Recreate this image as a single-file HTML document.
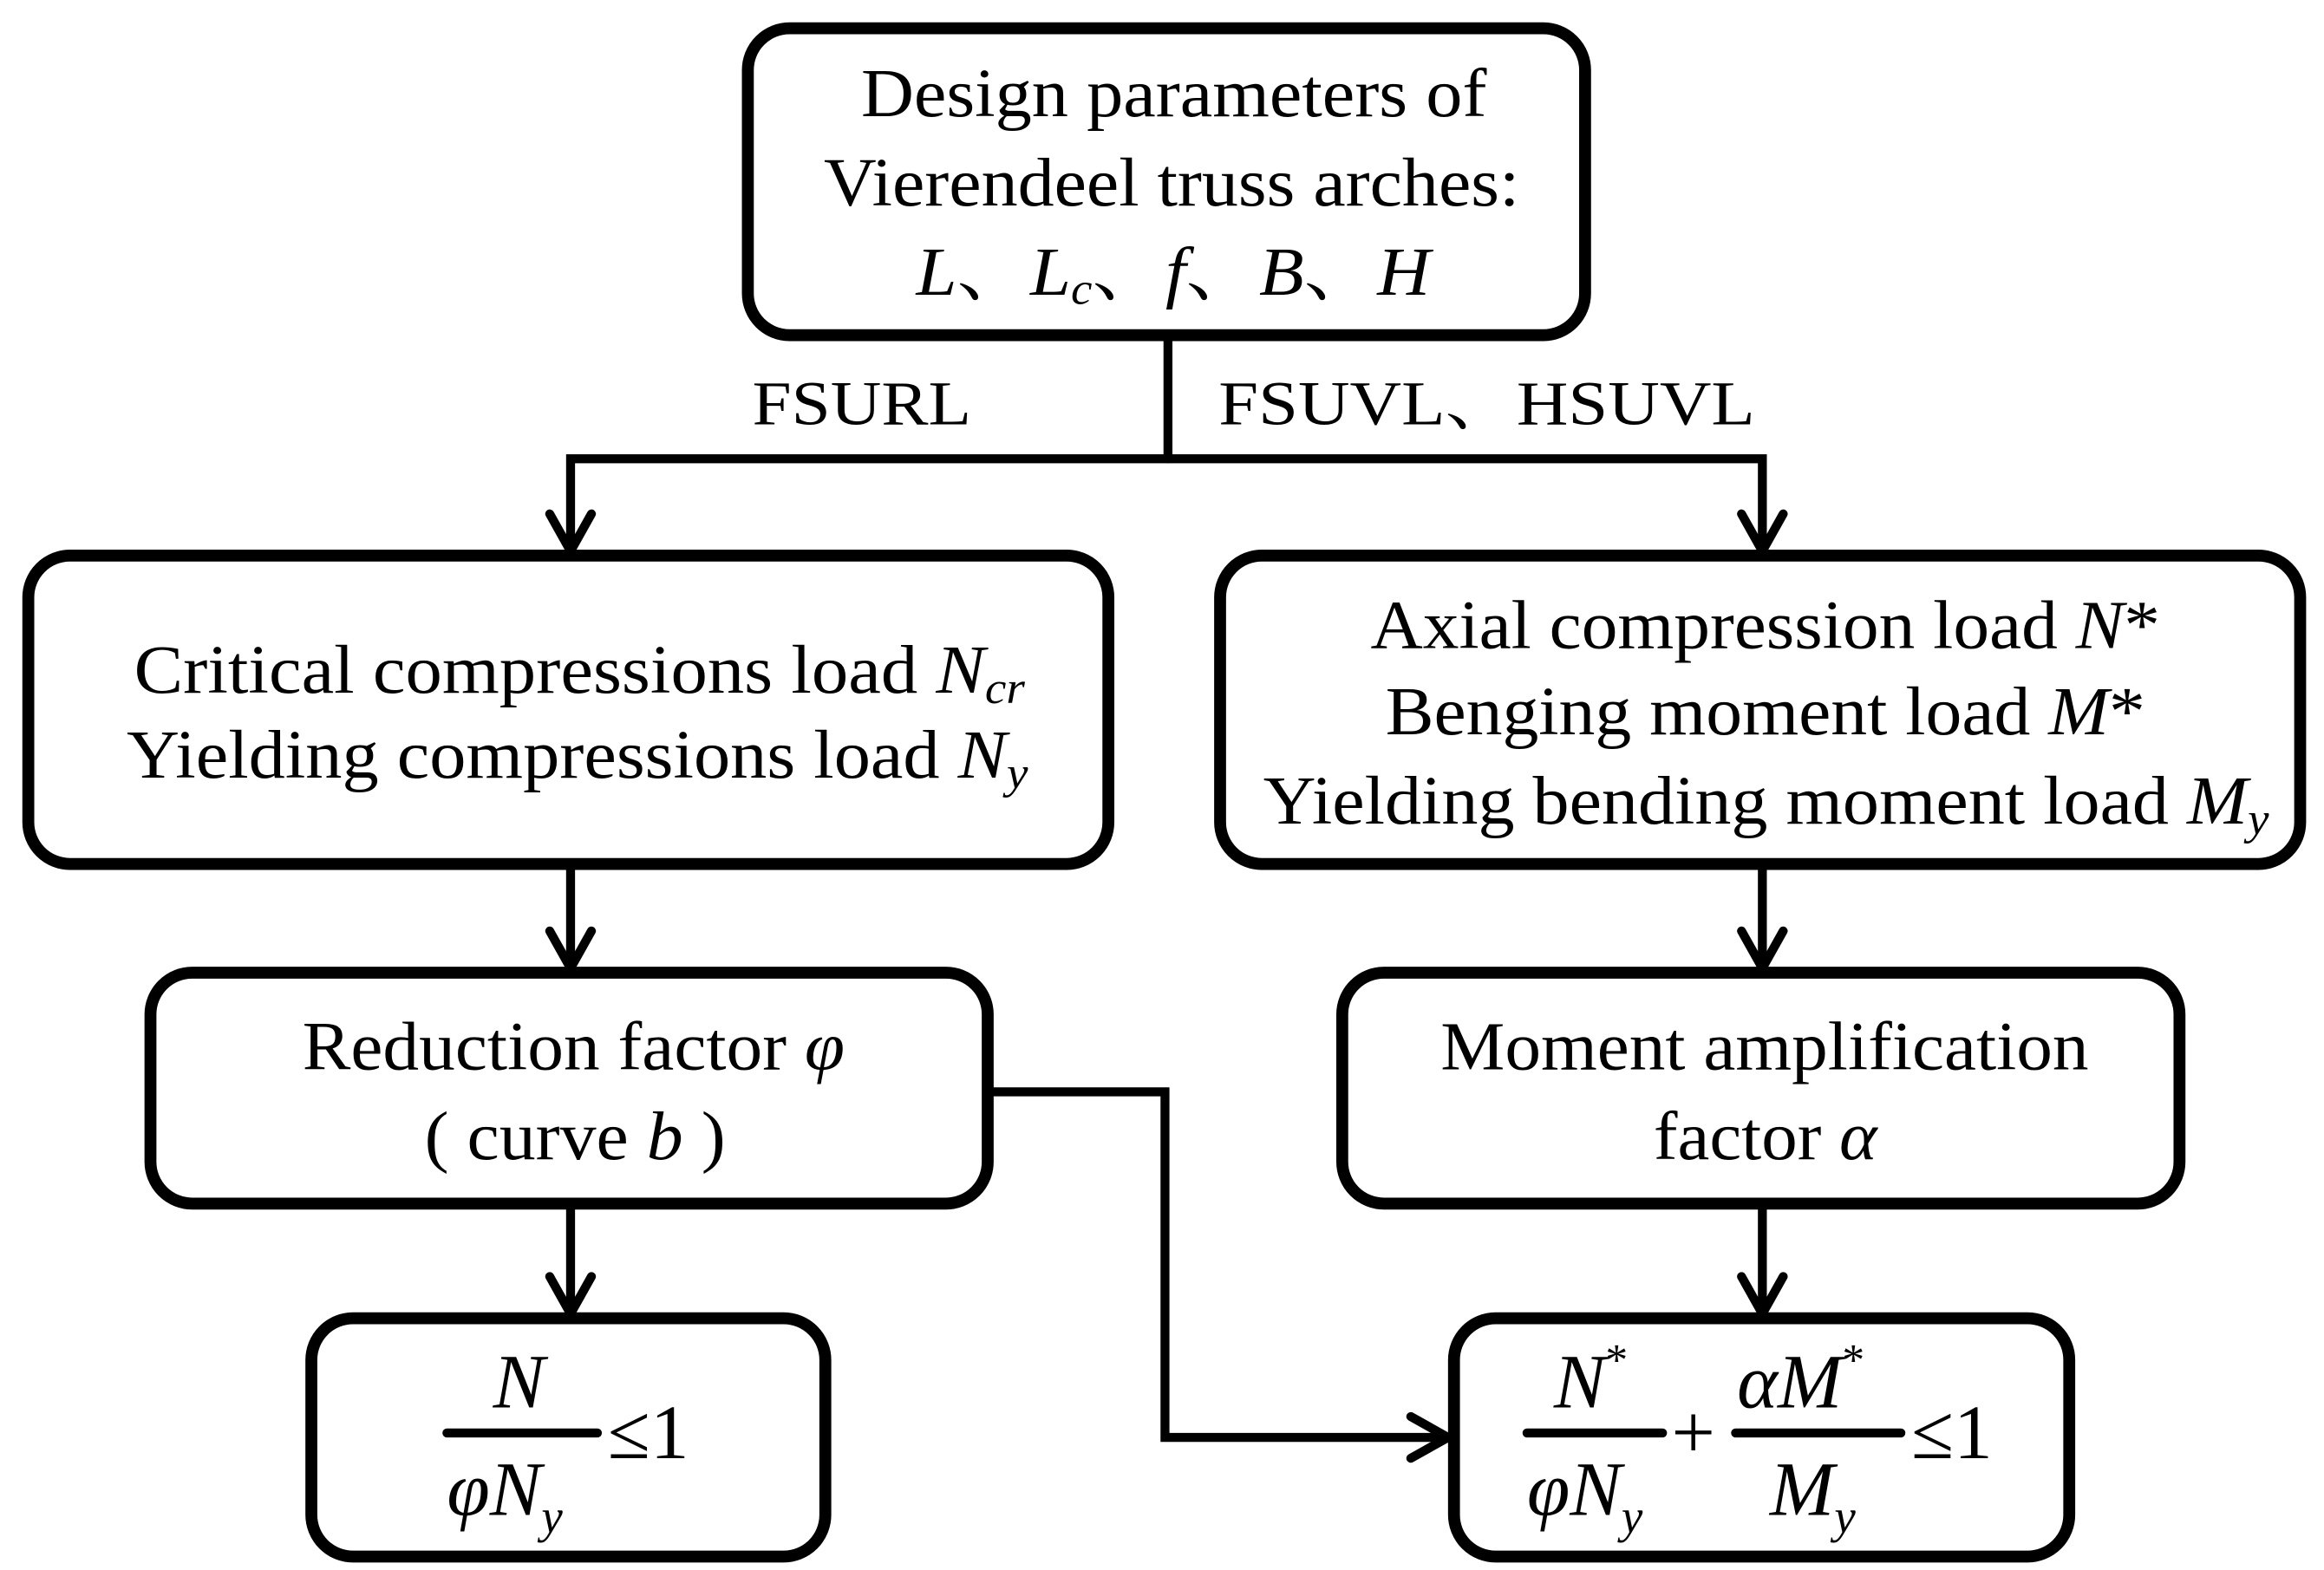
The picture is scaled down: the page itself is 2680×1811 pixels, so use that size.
<!DOCTYPE html>
<html><head><meta charset="utf-8"><style>html,body{margin:0;padding:0;background:#fff}svg{display:block}</style></head>
<body>
<svg width="2680" height="1811" viewBox="0 0 1560 1054" preserveAspectRatio="none" xmlns="http://www.w3.org/2000/svg" font-family="'Liberation Serif','Noto Serif CJK SC',serif" fill="#000">
<g fill="none" stroke="#000" stroke-width="8">
<rect x="502" y="19" width="562" height="206" rx="28"/>
<rect x="19" y="373" width="725" height="207" rx="28"/>
<rect x="819" y="373" width="725" height="207" rx="28"/>
<rect x="101" y="653" width="562" height="155" rx="28"/>
<rect x="901" y="653" width="562" height="155" rx="28"/>
<rect x="209" y="885" width="345" height="160" rx="28"/>
<rect x="976" y="885" width="413" height="160" rx="28"/>
</g>
<g fill="none" stroke="#000" stroke-width="6" stroke-linejoin="miter" stroke-linecap="round">
<line x1="784" y1="225" x2="784" y2="308"/>
<polyline points="383,370 383,308 1183,308 1183,370"/>
<polyline points="369,345 383,370 397,345"/>
<polyline points="1169,345 1183,370 1197,345"/>
<line x1="383" y1="580" x2="383" y2="650"/>
<polyline points="369,625 383,650 397,625"/>
<line x1="1183" y1="580" x2="1183" y2="650"/>
<polyline points="1169,625 1183,650 1197,625"/>
<line x1="383" y1="808" x2="383" y2="882"/>
<polyline points="369,857 383,882 397,857"/>
<line x1="1183" y1="808" x2="1183" y2="882"/>
<polyline points="1169,857 1183,882 1197,857"/>
<polyline points="664,733 782,733 782,965 970,965"/>
<polyline points="947,951 972,965 947,979"/>
<line x1="300" y1="962" x2="401" y2="962"/>
<line x1="1025" y1="962" x2="1116" y2="962"/>
<line x1="1165" y1="962" x2="1276" y2="962"/>
</g>
<g font-size="46">
<text x="578" y="78" textLength="420" lengthAdjust="spacingAndGlyphs">Design parameters of</text>
<text x="553" y="138" textLength="467" lengthAdjust="spacingAndGlyphs">Vierendeel truss arches:</text>
<text x="615" y="198" textLength="345" lengthAdjust="spacingAndGlyphs"><tspan font-style="italic">L</tspan>、<tspan font-style="italic">L<tspan font-size="30" dy="6">c</tspan></tspan><tspan dy="-6">、</tspan><tspan font-style="italic">f</tspan>、<tspan font-style="italic">B</tspan>、<tspan font-style="italic">H</tspan></text>
<text x="505" y="285" font-size="42" textLength="147" lengthAdjust="spacingAndGlyphs">FSURL</text>
<text x="818" y="285" font-size="42" textLength="360" lengthAdjust="spacingAndGlyphs">FSUVL、HSUVL</text>
<text x="90" y="465" textLength="598" lengthAdjust="spacingAndGlyphs">Critical compressions load <tspan font-style="italic">N<tspan font-size="30" dy="7">cr</tspan></tspan></text>
<text x="85" y="522" textLength="605" lengthAdjust="spacingAndGlyphs">Yielding compressions load <tspan font-style="italic">N<tspan font-size="30" dy="7">y</tspan></tspan></text>
<text x="920" y="435" textLength="530" lengthAdjust="spacingAndGlyphs">Axial compression load <tspan font-style="italic">N</tspan>*</text>
<text x="930" y="493" textLength="510" lengthAdjust="spacingAndGlyphs">Benging moment load <tspan font-style="italic">M</tspan>*</text>
<text x="848" y="553" textLength="675" lengthAdjust="spacingAndGlyphs">Yielding bending moment load <tspan font-style="italic">M<tspan font-size="30" dy="7">y</tspan></tspan></text>
<text x="203" y="718" textLength="364" lengthAdjust="spacingAndGlyphs">Reduction factor <tspan font-style="italic">φ</tspan></text>
<text x="285" y="778" textLength="202" lengthAdjust="spacingAndGlyphs">( curve <tspan font-style="italic">b</tspan> )</text>
<text x="967" y="718" textLength="435" lengthAdjust="spacingAndGlyphs">Moment amplification</text>
<text x="1110" y="778" textLength="150" lengthAdjust="spacingAndGlyphs">factor <tspan font-style="italic">α</tspan></text>
<text x="331" y="945" font-style="italic" font-size="52">N</text>
<text x="300" y="1017" font-style="italic" font-size="52">φN<tspan font-size="32" dy="12">y</tspan></text>
<text x="408" y="979" font-size="52">≤1</text>
<text x="1043" y="945" font-style="italic" font-size="52">N<tspan font-size="30" dy="-22" font-style="normal">*</tspan></text>
<text x="1025" y="1017" font-style="italic" font-size="52">φN<tspan font-size="32" dy="12">y</tspan></text>
<text x="1122" y="979" font-size="52">+</text>
<text x="1166" y="945" font-style="italic" font-size="52">αM<tspan font-size="30" dy="-22" font-style="normal">*</tspan></text>
<text x="1188" y="1017" font-style="italic" font-size="52">M<tspan font-size="32" dy="12">y</tspan></text>
<text x="1283" y="979" font-size="52">≤1</text>
</g>
</svg>
</body></html>
